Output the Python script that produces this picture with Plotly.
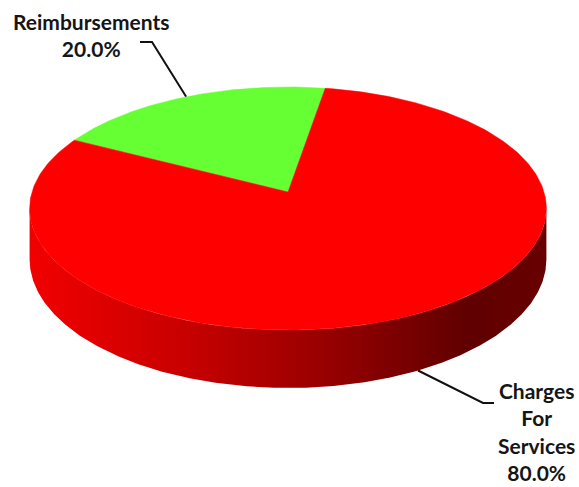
import numpy as np
import plotly.graph_objects as go

# Revenue split
labels = ["Reimbursements", "Charges For Services"]
label_lines = [["Reimbursements"], ["Charges", "For", "Services"]]
values = [20.0, 80.0]
slice_colors = ["#66ff33", "#ff0000"]

# Disc geometry (screen pixels) with a simple perspective tilt
CX, CY = 288, 192
RX, RY = 256, 119.3
K = 0.136          # far side shrink factor
DEPTH = 50         # thickness of the disc
START_DEG = 80.5   # where the first slice begins, counter-clockwise


def rim(phi_deg, drop=0.0):
    p = np.radians(phi_deg)
    u, v = np.cos(p), np.sin(p)
    s = 1.0 / (1.0 + K * v)
    return CX + RX * u * s, CY - RY * v * s + drop * s


total = sum(values)
spans = [v / total * 360.0 for v in values]
edges = START_DEG + np.concatenate([[0.0], np.cumsum(spans)])
mids = (edges[:-1] + edges[1:]) / 2

fig = go.Figure()

# Leader lines (drawn first so the disc sits on top of them)
elbows = [((152, 42), (140, 42)), ((483, 403), (494, 403))]
for i, (a, b) in enumerate(elbows):
    if i == 0:
        sx, sy = rim(mids[i])
    else:
        sx, sy = rim(mids[i], DEPTH)
    fig.add_trace(go.Scatter(
        x=[float(sx), a[0], b[0]], y=[float(sy), a[1], b[1]],
        mode="lines", line=dict(color="#111111", width=2),
        hoverinfo="skip"))

# Visible front wall of the disc, between the two silhouette points
phis = np.linspace(0, 360, 3601)
xs, _ = rim(phis)
phi_l = phis[np.argmin(xs)]
phi_r = phis[np.argmax(xs)]
if phi_r < phi_l:
    phi_r += 360
arc = np.linspace(phi_l, phi_r, 400)
tx, ty = rim(arc)
bx, by = rim(arc[::-1], DEPTH)
fig.add_trace(go.Scatter(
    x=np.concatenate([tx, bx]), y=np.concatenate([ty, by]),
    mode="lines", fill="toself", line=dict(width=0),
    fillgradient=dict(
        type="horizontal",
        colorscale=[[0.0, "#f20000"], [0.3, "#c80000"], [0.55, "#9c0000"],
                    [0.85, "#600000"], [1.0, "#680000"]]),
    hoverinfo="skip"))

# Top face slices
for i in range(len(values)):
    seg = np.linspace(edges[i], edges[i + 1], 300)
    px, py = rim(seg)
    fig.add_trace(go.Scatter(
        x=np.concatenate([[CX], px, [CX]]),
        y=np.concatenate([[CY], py, [CY]]),
        mode="lines", fill="toself",
        fillcolor=slice_colors[i],
        line=dict(color=slice_colors[i], width=0.5),
        name=labels[i], hoverinfo="name"))

# Category labels with percentages
label_pos = [(91, 35), (536, 431)]
for i in range(len(values)):
    pct = f"{values[i] / total * 100:.1f}%"
    text = "<br>".join(label_lines[i] + [pct])
    fig.add_annotation(
        x=label_pos[i][0], y=label_pos[i][1], xref="x", yref="y",
        text=text, showarrow=False, align="center", borderpad=0,
        font=dict(family="Lato", size=21, color="#151515", weight="bold"))

fig.update_layout(
    width=579, height=487, autosize=False,
    margin=dict(l=0, r=0, t=0, b=0),
    paper_bgcolor="white", plot_bgcolor="white",
    showlegend=False,
    xaxis=dict(range=[0, 579], visible=False, fixedrange=True),
    yaxis=dict(range=[487, 0], visible=False, fixedrange=True),
)

fig.write_html("out.html")
